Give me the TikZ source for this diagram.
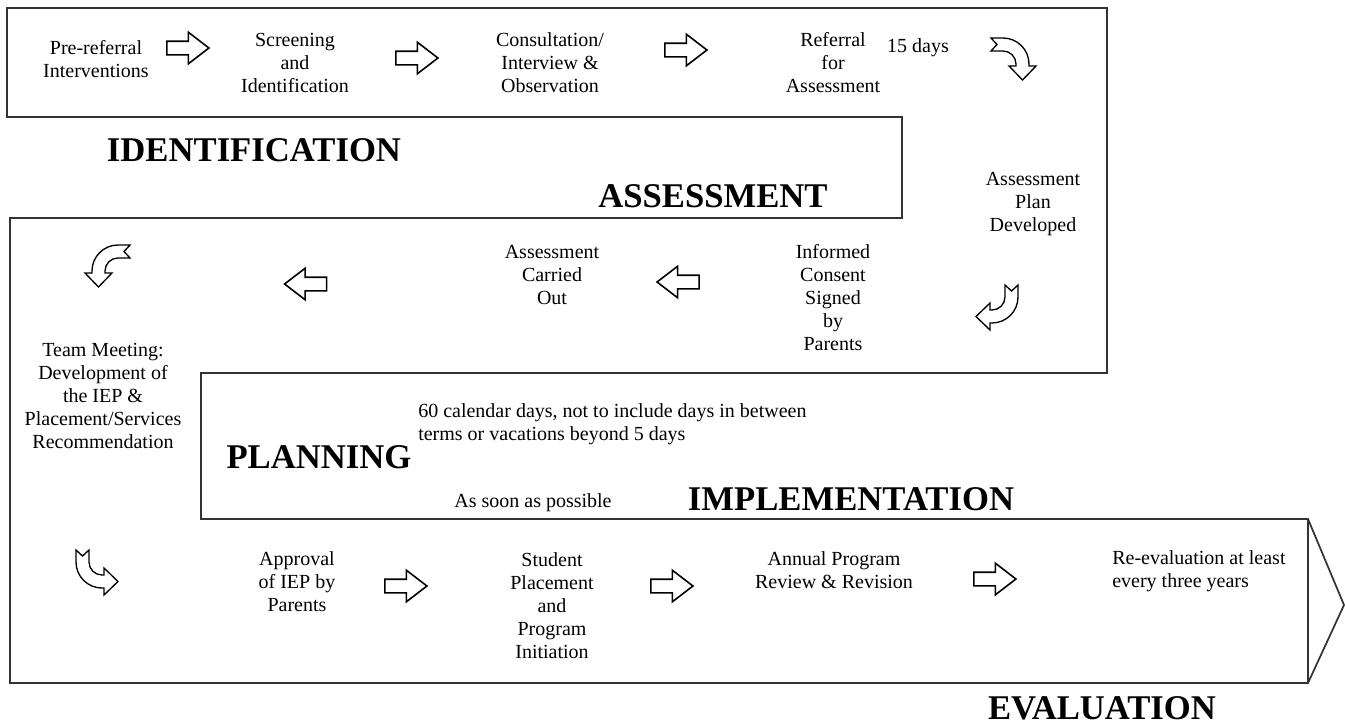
\documentclass[tikz,border=0pt]{standalone}
\usepackage{fontspec}
\setmainfont{Liberation Serif}
\usetikzlibrary{shapes.arrows}
\tikzset{
 frame/.style={draw=black!80, line width=1.3pt, line join=miter},
 txt/.style={align=center, font=\fontsize{15}{17.25}\selectfont, inner sep=0pt},
 txtl/.style={align=left, font=\fontsize{15}{17.25}\selectfont, inner sep=0pt},
 heading/.style={font=\fontsize{26}{30}\selectfont\bfseries, inner sep=0pt, anchor=base},
 blockarr/.style={single arrow, draw=black, line width=1.2pt, fill=white, minimum height=31.5pt, minimum width=22.5pt, single arrow head extend=6.75pt, single arrow tip angle=75, inner xsep=0pt, inner ysep=4.5pt},
 toright/.style={blockarr},
 toleft/.style={blockarr, shape border rotate=180},
 bent/.style={draw=black, line width=1pt, fill=white, line join=miter},
 bentarrow/.pic={\draw[bent] (-12,-26) -- (0,-26) arc[start angle=270, end angle=360, radius=26] -- (26,2) -- (33,2) -- (19.5,16) -- (6,2) -- (13,2) -- (13,0) arc[start angle=0, end angle=-90, radius=13] -- (-12,-13) -- (-6,-19.5) -- cycle;}
}
\begin{document}
\begin{tikzpicture}[x=0.75pt,y=-0.75pt]
\useasboundingbox (0,0) rectangle (1345,726);
% serpentine frame
\draw[frame] (7,117) -- (7,8) -- (1107,8) -- (1107,373) -- (201,373) -- (201,519) -- (1308,519) -- (1344,605) -- (1308,683) -- (10,683) -- (10,218) -- (902,218) -- (902,117) -- cycle;
\draw[frame] (1308,519) -- (1308,683);
% headings
\node[heading] (hid) at (254,161) {IDENTIFICATION};
\node[heading] (has) at (713,207) {ASSESSMENT};
\node[heading] (hpl) at (319,468) {PLANNING};
\node[heading] (him) at (851,510) {IMPLEMENTATION};
\node[heading] (hev) at (1102,719) {EVALUATION};
% row 1
\node[txt] (pre) at (96,59) {Pre-referral\\Interventions};
\node[toright] (a1) at (183.5,48) {};
\node[txt] (scr) at (295,63) {Screening\\and\\Identification};
\node[toright] (a2) at (412.5,58) {};
\node[txt] (con) at (550,63) {Consultation/\\Interview \&\\Observation};
\node[toright] (a3) at (681.5,50) {};
\node[txt] (ref) at (833,63) {Referral\\for\\Assessment};
\node[txt] (d15) at (918,48) {15 days};
\pic at (1003,64) {bentarrow};
% right column / row 2
\node[txt] (apd) at (1033,204) {Assessment\\Plan\\Developed};
\pic[rotate=-90] at (992,297) {bentarrow};
\node[txt] (ics) at (833,298) {Informed\\Consent\\Signed\\by\\Parents};
\node[toleft] (l1) at (682.5,282) {};
\node[txt] (aco) at (552,275) {Assessment\\Carried\\Out};
\node[toleft] (l2) at (310,284) {};
\pic[xscale=-1] at (118,271) {bentarrow};
\node[txt] (team) at (103,396) {Team Meeting:\\Development of\\the IEP \&\\Placement/Services\\Recommendation};
\node[txtl,anchor=west] (d60) at (418,424) {60 calendar days, not to include days in between\\terms or vacations beyond 5 days};
\node[txt] (asap) at (533,503) {As soon as possible};
% row 3
\pic[xscale=-1,rotate=-90] at (102,562) {bentarrow};
\node[txt] (appr) at (297,582) {Approval\\of IEP by\\Parents};
\node[toright] (r4) at (401.5,586) {};
\node[txt] (stu) at (552,605.5) {Student\\Placement\\and\\Program\\Initiation};
\node[toright] (r5) at (667.5,586) {};
\node[txt] (ann) at (834,570.5) {Annual Program\\Review \& Revision};
\node[toright] (r6) at (990.5,579) {};
\node[txtl,anchor=west] (ree) at (1112,571) {Re-evaluation at least\\every three years};
\end{tikzpicture}
\end{document}
